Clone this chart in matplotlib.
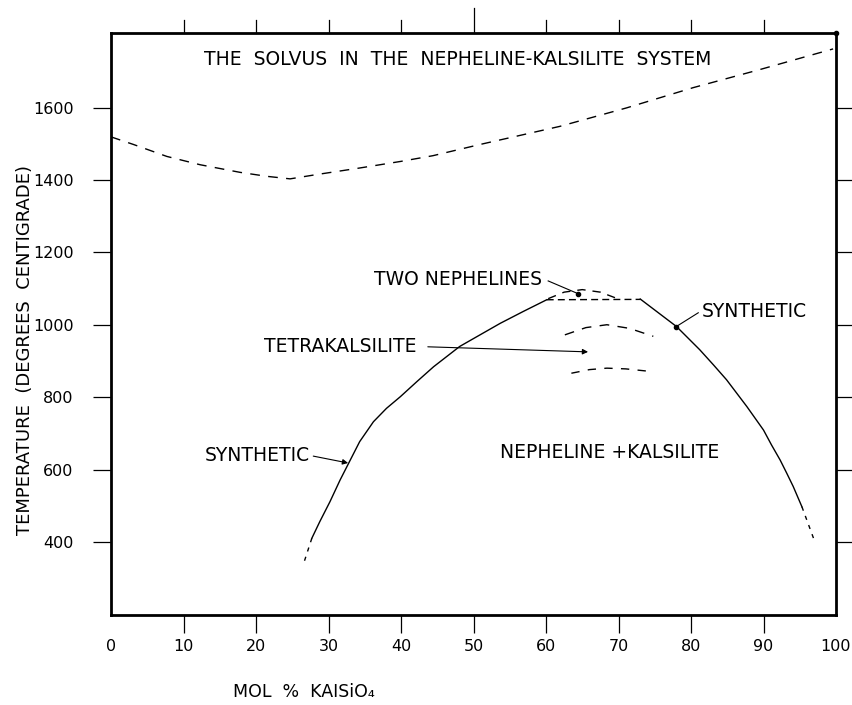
import matplotlib.pyplot as plt
import matplotlib.transforms as mtransforms

# upper dashed curve (liquidus)
liq_x = [0, 3.1, 7.7, 12.3, 17.8, 21.5, 24.7, 28.4, 34.3, 39.9, 44.4, 50.9, 61.9, 71.1, 80.3, 89.5, 99.6]
liq_t = [1519, 1498, 1465, 1442, 1421, 1410, 1403, 1415, 1433, 1451, 1467, 1498, 1548, 1599, 1655, 1705, 1762]

# solvus, nepheline side
left_x = [27.7, 28.8, 30.2, 31.6, 33.0, 34.3, 36.2, 38.0, 39.9, 42.2, 44.5, 48.1, 50.9, 53.7, 56.9, 60.1]
left_t = [410, 456, 511, 571, 626, 677, 732, 769, 801, 843, 884, 940, 972, 1004, 1037, 1069]
left_ext_x = [27.7, 26.5]
left_ext_t = [410, 336]

# solvus, kalsilite side
right_x = [73.0, 78.0, 81.2, 83.1, 84.9, 86.3, 87.7, 90.0, 91.1, 92.3, 93.2, 94.1, 95.3]
right_t = [1071, 995, 931, 889, 848, 811, 774, 709, 668, 626, 590, 553, 497]
right_ext_x = [95.3, 96.9]
right_ext_t = [497, 410]

# flat top and the two nephelines arc
flat_x = [60.1, 73.0]
flat_t = [1069, 1070]
twone_x = [60.3, 62.5, 65.0, 67.5, 70.0]
twone_t = [1072, 1090, 1097, 1090, 1071]

# tetrakalsilite arcs
tk_up_x = [62.6, 65.5, 68.4, 71.5, 74.8]
tk_up_t = [972, 992, 1000, 990, 968]
tk_lo_x = [63.5, 66.0, 68.4, 71.0, 73.9]
tk_lo_t = [866, 876, 880, 878, 872]

xticks = list(range(0, 101, 10))
yticks = list(range(400, 1601, 200))

fig = plt.figure(figsize=(8.52, 7.05), dpi=100)
ax = fig.add_axes([111/852, 1 - 615/705, (836-111)/852, (615-33)/705])

lw = 1.0
ax.plot(liq_x, liq_t, color='black', lw=lw, ls=(0, (7, 6)))
ax.plot(left_x, left_t, color='black', lw=lw)
ax.plot(left_ext_x, left_ext_t, color='black', lw=lw, ls=(0, (3, 4)))
ax.plot(right_x, right_t, color='black', lw=lw)
ax.plot(right_ext_x, right_ext_t, color='black', lw=lw, ls=(0, (3, 4)))
ax.plot(flat_x, flat_t, color='black', lw=lw, ls=(0, (5, 3)))
ax.plot(twone_x, twone_t, color='black', lw=lw, ls=(0, (6, 5)))
ax.plot(tk_up_x, tk_up_t, color='black', lw=lw, ls=(0, (7, 6)))
ax.plot(tk_lo_x, tk_lo_t, color='black', lw=lw, ls=(0, (6, 6)))

ax.set_xlim(0, 100)
ax.set_ylim(198, 1806)

fs = 13.5
ax.text(47.8, 1733, "THE  SOLVUS  IN  THE  NEPHELINE-KALSILITE  SYSTEM", ha='center', va='center', fontsize=fs)
ax.text(59.4, 1124, "TWO NEPHELINES", ha='right', va='center', fontsize=fs)
ax.text(42.2, 939, "TETRAKALSILITE", ha='right', va='center', fontsize=fs)
ax.text(27.4, 640, "SYNTHETIC", ha='right', va='center', fontsize=fs)
ax.text(81.5, 1036, "SYNTHETIC", ha='left', va='center', fontsize=fs)
ax.text(68.8, 646, "NEPHELINE +KALSILITE", ha='center', va='center', fontsize=fs)

# pointers
ax.plot([60.3, 64.4], [1121, 1086], color='black', lw=0.8)
ax.plot([64.4], [1086], 'o', color='black', ms=3)
ax.plot([81.0, 77.9], [1033, 994], color='black', lw=0.8)
ax.plot([77.9], [994], 'o', color='black', ms=3)
ax.annotate("", xy=(65.8, 925), xytext=(43.7, 939),
            arrowprops=dict(arrowstyle='-|>', lw=0.8, color='black', mutation_scale=8, shrinkA=0, shrinkB=0))
ax.annotate("", xy=(32.7, 618), xytext=(27.9, 637),
            arrowprops=dict(arrowstyle='-|>', lw=0.8, color='black', mutation_scale=8, shrinkA=0, shrinkB=0))

# frame and ticks
for s in ax.spines.values():
    s.set_linewidth(2.0)
ax.set_xticks(xticks)
ax.set_xticklabels([str(v) for v in xticks])
ax.set_yticks(yticks)
ax.set_yticklabels([str(v) for v in yticks])
ax.tick_params(axis='x', direction='out', length=13, width=0.9, pad=4, labelsize=11.5)
ax.tick_params(axis='y', direction='out', length=13, width=0.9, pad=14, labelsize=11.5,
               right=True)
for i in (0, -1):
    ax.xaxis.get_major_ticks()[i].tick1line.set_visible(False)

# top ticks, the middle one longer
trans = mtransforms.blended_transform_factory(ax.transData, ax.transAxes)
for v in xticks[1:-1]:
    h = 0.043 if v == 50 else 0.022
    ax.plot([v, v], [1, 1 + h], color='black', lw=0.9, transform=trans, clip_on=False)
ax.plot([100], [1], 'o', color='black', ms=3, transform=trans, clip_on=False)

fig.text(233/852, 1 - 692/705, "MOL  %  KAISiO\u2084", ha='left', va='center', fontsize=12.5)
fig.text(25/852, 1 - 350/705, "TEMPERATURE  (DEGREES  CENTIGRADE)", ha='center', va='center',
         rotation=90, fontsize=13)

fig.savefig("out.png", dpi=100)
